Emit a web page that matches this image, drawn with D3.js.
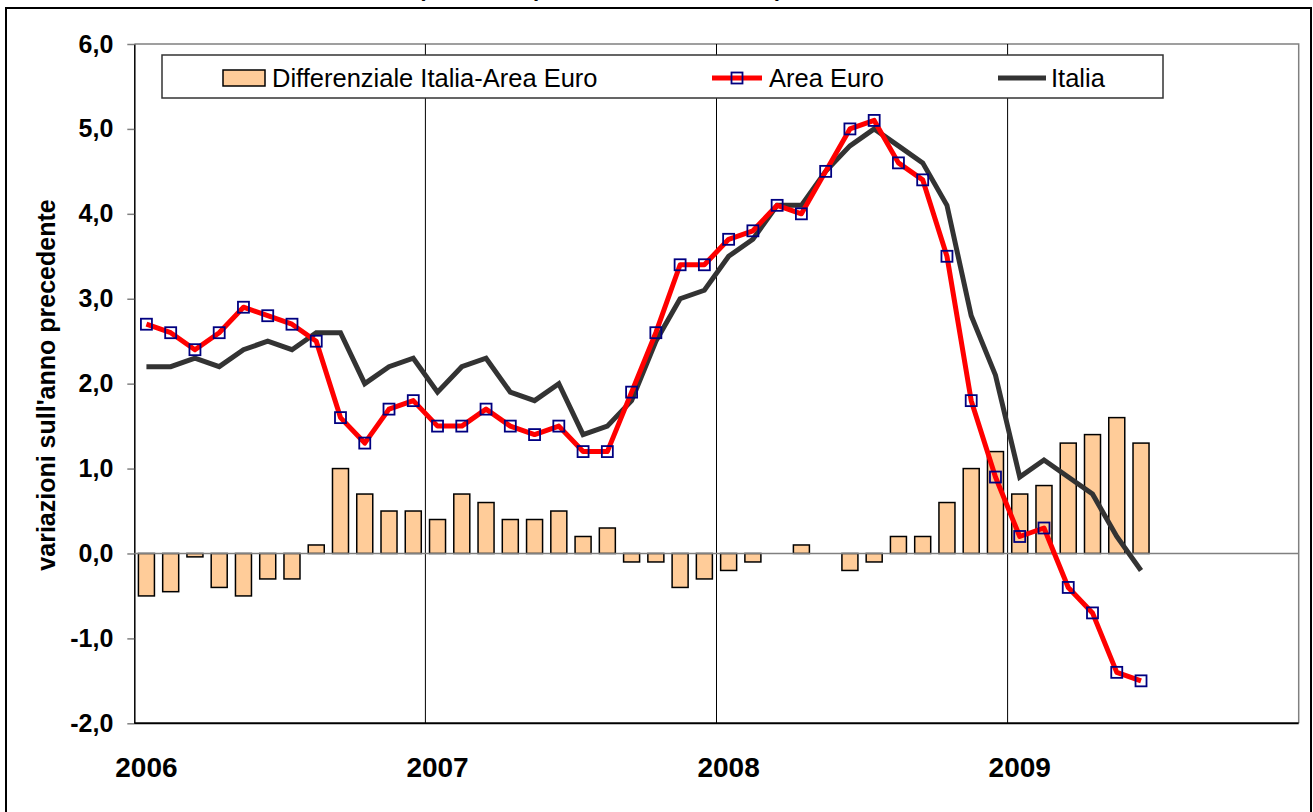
<!DOCTYPE html>
<head>
  <meta charset="utf-8">
  <title>Italia - Area Euro</title>
  <script src="https://d3js.org/d3.v7.min.js"></script>
  <style>
    body { margin:0; background:#fff; }
    svg { display:block; font-family: "Liberation Sans", Arial, sans-serif; }
  </style>
</head>

<body>
  <svg width="1313" height="812"></svg>
  <script>
    // monthly data, Jan 2006 - Jun 2009 (axis runs to Dec 2009)
    var years = ['2006', '2007', '2008', '2009'];
    var areaEuro = [2.7, 2.6, 2.4, 2.6, 2.9, 2.8, 2.7, 2.5, 1.6, 1.3, 1.7, 1.8,
                    1.5, 1.5, 1.7, 1.5, 1.4, 1.5, 1.2, 1.2, 1.9, 2.6, 3.4, 3.4,
                    3.7, 3.8, 4.1, 4.0, 4.5, 5.0, 5.1, 4.6, 4.4, 3.5, 1.8, 0.9,
                    0.2, 0.3, -0.4, -0.7, -1.4, -1.5];
    var italia = [2.2, 2.2, 2.3, 2.2, 2.4, 2.5, 2.4, 2.6, 2.6, 2.0, 2.2, 2.3,
                  1.9, 2.2, 2.3, 1.9, 1.8, 2.0, 1.4, 1.5, 1.8, 2.5, 3.0, 3.1,
                  3.5, 3.7, 4.1, 4.1, 4.5, 4.8, 5.0, 4.8, 4.6, 4.1, 2.8, 2.1,
                  0.9, 1.1, 0.9, 0.7, 0.2, -0.2];
    var differenziale = [-0.5, -0.45, -0.04, -0.4, -0.5, -0.3, -0.3, 0.1, 1.0, 0.7, 0.5, 0.5,
                         0.4, 0.7, 0.6, 0.4, 0.4, 0.5, 0.2, 0.3, -0.1, -0.1, -0.4, -0.3,
                         -0.2, -0.1, 0, 0.1, 0, -0.2, -0.1, 0.2, 0.2, 0.6, 1.0, 1.2,
                         0.7, 0.8, 1.3, 1.4, 1.6, 1.3];
    var yTicks = [-2, -1, 0, 1, 2, 3, 4, 5, 6];
    var legendLabels = ['Differenziale Italia-Area Euro', 'Area Euro', 'Italia'];

    var months = [];
    years.forEach(function(yr) {
      for (var m = 1; m <= 12; m++) months.push(yr + '-' + (m < 10 ? '0' + m : m));
    });

    var plotLeft = 134.3, plotRight = 1298.7, plotTop = 44, plotBottom = 723.3;
    var svg = d3.select('svg');

    // outer frame + title (mostly above the visible area)
    svg.append('rect')
      .attr('x', 6).attr('y', 8).attr('width', 1305).attr('height', 830)
      .attr('fill', 'none').attr('stroke', '#000').attr('stroke-width', 2);
    svg.append('text')
      .attr('x', 418).attr('y', -4)
      .attr('font-size', 22).attr('font-weight', 'bold')
      .text('(variazioni percentuali sui 12 mesi)');

    var x = d3.scaleBand().domain(months).range([plotLeft, plotRight]).paddingInner(0.34).paddingOuter(0.17);
    var xc = function(i) { return x(months[i]) + x.bandwidth() / 2; };
    var y = d3.scaleLinear().domain([-2, 6]).range([plotBottom, plotTop]);
    var fmt = function(d) { return d3.format('.1f')(d).replace('.', ',').replace('\u2212', '-'); };

    // plot border (top / right)
    svg.append('path')
      .attr('d', 'M' + plotLeft + ',' + plotTop + 'H' + plotRight + 'V' + plotBottom)
      .attr('fill', 'none').attr('stroke', '#808080').attr('stroke-width', 1.5);

    // year separators
    var step = (plotRight - plotLeft) / months.length;
    svg.selectAll('.sep')
      .data(years.slice(1))
      .enter().append('line')
      .attr('class', 'sep')
      .attr('x1', (d, i) => plotLeft + (i + 1) * 12 * step)
      .attr('x2', (d, i) => plotLeft + (i + 1) * 12 * step)
      .attr('y1', plotTop).attr('y2', plotBottom)
      .attr('stroke', '#000').attr('stroke-width', 1);

    // y axis
    var yAxis = svg.append('g')
      .attr('transform', 'translate(' + plotLeft + ',0)')
      .call(d3.axisLeft(y).tickValues(yTicks).tickFormat(fmt).tickSizeInner(7).tickSizeOuter(0).tickPadding(14));
    yAxis.select('.domain').attr('stroke', '#000').attr('stroke-width', 1.5);
    yAxis.selectAll('.tick line').attr('stroke', '#808080').attr('stroke-width', 1.5);
    yAxis.selectAll('.tick text')
      .attr('font-size', 25).attr('font-weight', 'bold').attr('fill', '#000')
      .attr('font-family', '"Liberation Sans", Arial, sans-serif');

    // bottom border
    svg.append('line')
      .attr('x1', plotLeft).attr('x2', plotRight).attr('y1', plotBottom).attr('y2', plotBottom)
      .attr('stroke', '#000').attr('stroke-width', 2);

    // year labels
    svg.selectAll('.year')
      .data(years)
      .enter().append('text')
      .attr('class', 'year')
      .attr('x', (d, i) => xc(i * 12))
      .attr('y', 777)
      .attr('text-anchor', 'middle')
      .attr('font-size', 28).attr('font-weight', 'bold')
      .text(d => d);

    // y title
    svg.append('text')
      .attr('transform', 'translate(55,385) rotate(-90)')
      .attr('text-anchor', 'middle')
      .attr('font-size', 25).attr('font-weight', 'bold')
      .text("variazioni sull'anno precedente");

    // bars
    svg.selectAll('.bar')
      .data(differenziale)
      .enter().append('rect')
      .attr('class', 'bar')
      .attr('x', (d, i) => x(months[i]))
      .attr('width', x.bandwidth())
      .attr('y', d => y(Math.max(0, d)))
      .attr('height', d => Math.abs(y(d) - y(0)))
      .attr('fill', '#FFCC99')
      .attr('stroke', '#000').attr('stroke-width', 1.5);

    // zero line
    svg.append('line')
      .attr('x1', plotLeft).attr('x2', plotRight).attr('y1', y(0)).attr('y2', y(0))
      .attr('stroke', '#808080').attr('stroke-width', 1.5);

    var line = d3.line().x((d, i) => xc(i)).y(d => y(d));

    svg.append('path')
      .datum(italia)
      .attr('d', line)
      .attr('fill', 'none').attr('stroke', '#333333').attr('stroke-width', 5)
      .attr('stroke-linejoin', 'miter');

    svg.append('path')
      .datum(areaEuro)
      .attr('d', line)
      .attr('fill', 'none').attr('stroke', '#FF0000').attr('stroke-width', 5)
      .attr('stroke-linejoin', 'round');

    var ms = 11;
    svg.selectAll('.mk')
      .data(areaEuro)
      .enter().append('rect')
      .attr('class', 'mk')
      .attr('x', (d, i) => xc(i) - ms / 2)
      .attr('y', d => y(d) - ms / 2)
      .attr('width', ms).attr('height', ms)
      .attr('fill', 'none').attr('stroke', '#000080').attr('stroke-width', 1.8);

    // legend
    var lg = svg.append('g');
    lg.append('rect')
      .attr('x', 162).attr('y', 55).attr('width', 1001).attr('height', 43)
      .attr('fill', '#fff').attr('stroke', '#333').attr('stroke-width', 1.5);
    lg.append('rect')
      .attr('x', 223).attr('y', 70).attr('width', 42).attr('height', 16)
      .attr('fill', '#FFCC99').attr('stroke', '#000').attr('stroke-width', 1.5);
    lg.append('line')
      .attr('x1', 712).attr('x2', 762).attr('y1', 78).attr('y2', 78)
      .attr('stroke', '#FF0000').attr('stroke-width', 5);
    lg.append('rect')
      .attr('x', 737 - ms / 2).attr('y', 78 - ms / 2).attr('width', ms).attr('height', ms)
      .attr('fill', 'none').attr('stroke', '#000080').attr('stroke-width', 1.8);
    lg.append('line')
      .attr('x1', 998).attr('x2', 1046).attr('y1', 78).attr('y2', 78)
      .attr('stroke', '#333333').attr('stroke-width', 5);
    lg.selectAll('.lt')
      .data(legendLabels)
      .enter().append('text')
      .attr('class', 'lt')
      .attr('x', (d, i) => [272, 769, 1051][i])
      .attr('y', 87)
      .attr('font-size', 25.5)
      .text(d => d);
  </script>
</body>
